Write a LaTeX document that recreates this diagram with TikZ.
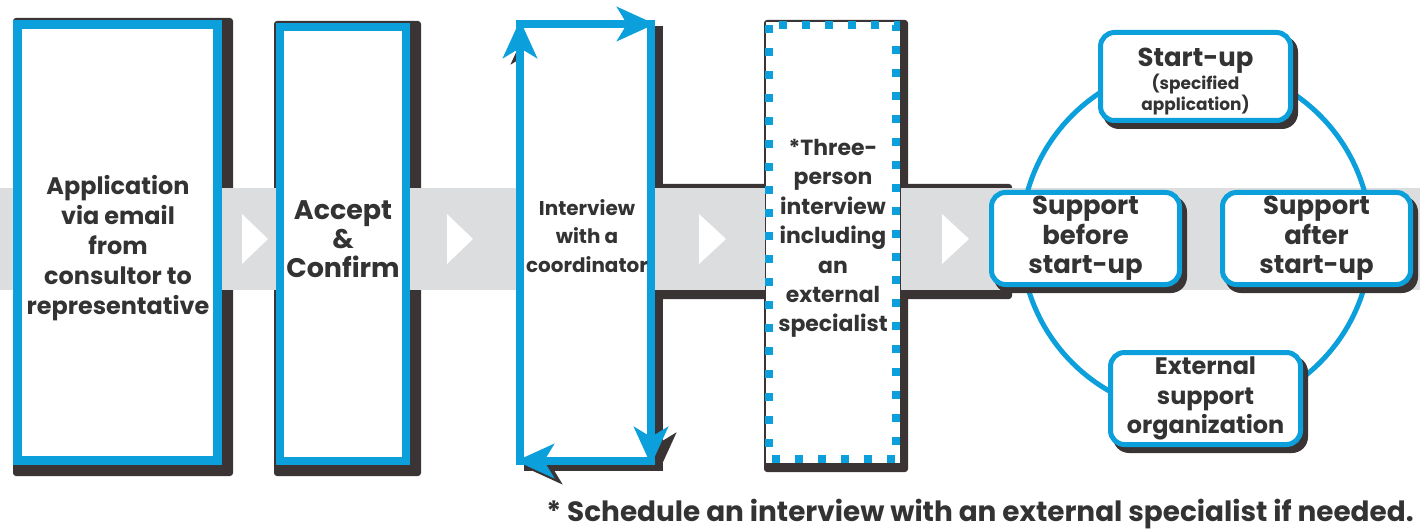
\documentclass[tikz,border=0pt]{standalone}
\usepackage{fontspec}
\setmainfont{Poppins}
\usetikzlibrary{arrows.meta}
\definecolor{cblue}{HTML}{0BA0DC}
\definecolor{cdark}{HTML}{3A3435}
\definecolor{cgray}{HTML}{DCDDDE}
\definecolor{ctext}{HTML}{333333}
\newcommand\myfs[2]{\fontsize{#1}{#2}\selectfont}
\tikzset{
  shd/.style={fill=cdark, rounded corners=3bp},
  cshd/.style={fill=cdark, rounded corners=16bp},
  bluebox/.style={draw=cblue, fill=white},
  lbl/.style={align=center, text=ctext, inner sep=0pt, font=\bfseries},
  arr/.style={line width=8bp, line cap=rect, -{Stealth[length=38bp, width=34bp, inset=10bp]}},
  chev/.style={fill=white},
  cbox/.style={draw=cblue, line width=5bp, fill=white, rounded corners=14bp,
    minimum width=188bp, minimum height=92bp, inner sep=0pt, align=center,
    text=ctext, font=\bfseries},
}
\begin{document}
\begin{tikzpicture}[x=1bp,y=-1bp]
\useasboundingbox (0,0) rectangle (1427,532);
% shadows
\fill[shd] (13,18) rectangle (233,476);
\fill[shd] (274,21) rectangle (421,476);
\fill[shd] (650,184) rectangle (1012,299);
\fill[shd] (764,20) rectangle (908,472);
\begin{scope}[shift={(8,6)}, cdark]
  \draw[arr] (520,24) -- (655,24);
  \draw[arr] (651,24) -- (651,465);
  \draw[arr] (651,461) -- (516,461);
  \draw[arr] (520,461) -- (520,20);
\end{scope}
% band
\fill[cgray] (0,188) rectangle (1420,290);
\fill[chev] (242,214) -- (242,264) -- (268,239) -- cycle;
\fill[chev] (447,214) -- (447,264) -- (473,239) -- cycle;
\fill[chev] (699,214) -- (699,264) -- (726,239) -- cycle;
\fill[chev] (942,214) -- (942,264) -- (969,239) -- cycle;
% box 1 and 2
\draw[bluebox, line width=9bp] (17.5,24.5) rectangle (217.5,460.5);
\draw[bluebox, line width=8bp] (280,27) rectangle (406,461);
% box 3
\fill[white] (520,24) rectangle (651,461);
\begin{scope}[cblue]
  \draw[arr] (520,24) -- (655,24);
  \draw[arr] (651,24) -- (651,465);
  \draw[arr] (651,461) -- (516,461);
  \draw[arr] (520,461) -- (520,20);
\end{scope}
% box 4
\draw[fill=white, draw=cdark, line width=0.6bp] (765,21) rectangle (900,463);
\draw[cblue, line width=8bp, dash pattern=on 8bp off 15bp] (769,25) rectangle (896,459);
% labels
\node[lbl, font=\bfseries\myfs{24}{30}] (t1) at (118,248) {Application\\via email\\from\\consultor to\\representative};
\node[lbl, font=\bfseries\myfs{27}{29}] (t2) at (343,239) {Accept\\\&\\Confirm};
\node[lbl, font=\bfseries\myfs{20}{29}] (t3) at (587,236) {Interview\\with a\\coordinator};
\node[lbl, font=\bfseries\myfs{22}{29.5}] (t4) at (833,238.5) {*Three-\\person\\interview\\including\\an\\external\\specialist};
% cycle
\coordinate (cc) at (1196,239);
\draw[cblue, line width=5bp] (cc) circle[radius=175bp];
\fill[cshd] (1103,36) rectangle (1298,129);
\fill[cshd] (994,196) rectangle (1187,293);
\fill[cshd] (1225,196) rectangle (1418,293);
\fill[cshd] (1113,356) rectangle (1308,453);
\node[cbox, minimum width=190bp, minimum height=88bp] (su) at (1195.5,76.5) {};
\node[lbl] (sut) at (1195.5,81.5)
  {\myfs{26}{28}Start-up\\\myfs{17}{21}(specified\\\myfs{17}{21}application)};
\node[cbox, font=\bfseries\myfs{26}{29.5}] (sb) at (1085.5,238.5) {Support\\before\\start-up};
\node[cbox, font=\bfseries\myfs{26}{29.5}] (sa) at (1316.5,238.5) {Support\\after\\start-up};
\node[cbox, minimum width=190bp, font=\bfseries\myfs{24}{29.5}] (ex) at (1205.5,398.5) {External\\support\\organization};
% footnote
\node[lbl, font=\bfseries\myfs{28}{30}] (fn) at (980,514) {* Schedule an interview with an external specialist if needed.};
\end{tikzpicture}
\end{document}
